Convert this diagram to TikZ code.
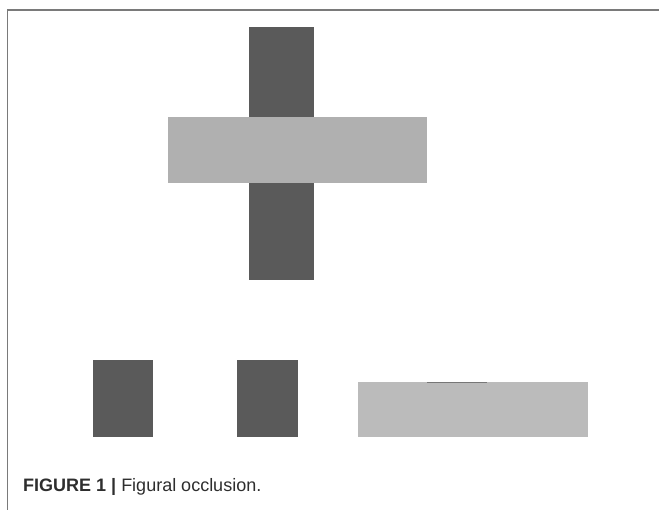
\documentclass[tikz,border=0pt]{standalone}
\usepackage{fontspec}
\setmainfont{Liberation Sans}
\definecolor{frame}{HTML}{7A7A7A}
\definecolor{darkbar}{HTML}{5A5A5A}
\definecolor{lightbar}{HTML}{B0B0B0}
\definecolor{lightrect}{HTML}{BBBBBB}
\definecolor{captxt}{HTML}{2E2E2E}
\tikzset{
  darkshape/.style={fill=darkbar, draw=none},
  lightshape/.style={fill=lightbar, draw=none},
}
\begin{document}
\begin{tikzpicture}[x=1pt,y=-1pt]
\useasboundingbox (0,0) rectangle (659,509);
% frame (left and top only)
\draw[frame, line width=1.3pt] (7.5,520) -- (7.5,10) -- (670,10);
% cross
\fill[darkshape] (249,27) rectangle (314,280);
\fill[lightshape] (168,117) rectangle (427,183);
% bottom row
\fill[darkshape] (93,360) rectangle (153,437);
\fill[darkshape] (237,360) rectangle (298,437);
\fill[fill=lightrect] (358,382) rectangle (588,437);
\draw[darkbar!70!lightrect, line width=1pt] (427,382.5) -- (487,382.5);
% caption
\node[anchor=base west, font=\fontsize{18}{21}\selectfont, text=captxt, inner sep=0pt] (cap) at (23,491) {\textbf{FIGURE 1} \textbf{|} Figural occlusion.};
\end{tikzpicture}
\end{document}
